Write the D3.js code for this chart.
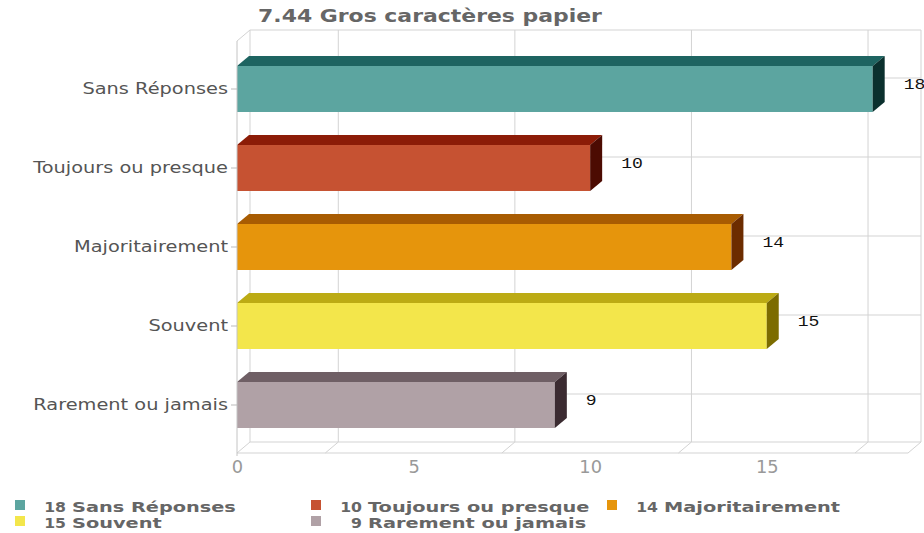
<!DOCTYPE html>
<html>
<head>
<meta charset="utf-8">
<script src="https://cdn.jsdelivr.net/npm/d3@7"></script>
<style>
  html, body { margin: 0; padding: 0; background: #fff; }
  svg { display: block; }
</style>
</head>
<body>
<svg id="chart" width="924" height="533"></svg>
<script>
// ---- data ----
const title = "7.44 Gros caractères papier";
const categories = ["Sans Réponses", "Toujours ou presque", "Majoritairement", "Souvent", "Rarement ou jamais"];
const values = [18, 10, 14, 15, 9];
const xTicks = [0, 5, 10, 15];
const gridValues = [2.5, 7.5, 12.5, 17.5];
const xMax = 19;
const frontColors = ["#5ca5a0", "#c65232", "#e6950c", "#f3e64b", "#b0a1a6"];
const topColors   = ["#1e6461", "#8c1c07", "#a85c02", "#bcab14", "#6f5f65"];
const sideColors  = ["#0b302e", "#4c0b02", "#6c2c00", "#7c6c00", "#3b2b31"];

// ---- layout ----
const svg = d3.select("#chart");
const plot = { left: 237, right: 908, top: 41, bottom: 453 };
const wallD = { dx: 13, dy: -11 };
const barD = { dx: 12, dy: -10 };
const bandInset = 8.5;
const hStretch = 1.29;   // the reference is horizontally stretched

const x = d3.scaleLinear().domain([0, xMax]).range([plot.left, plot.right]);
const y = d3.scaleBand().domain(categories)
  .range([plot.top + bandInset, plot.bottom - bandInset])
  .paddingInner(0.418).paddingOuter(0.209);

const gridColor = "#d3d3d3";

function stretch(sel, f) {
  sel.each(function () {
    const len = this.getComputedTextLength();
    d3.select(this).attr("textLength", len * f).attr("lengthAdjust", "spacingAndGlyphs");
  });
}

// ---- walls / grid ----
const g = svg.append("g");
const bx = v => x(v) + wallD.dx;
const byTop = plot.top + wallD.dy, byBot = plot.bottom + wallD.dy;

g.append("line").attr("x1", bx(0)).attr("x2", bx(xMax)).attr("y1", byTop).attr("y2", byTop).attr("stroke", gridColor);
g.append("line").attr("x1", bx(0)).attr("x2", bx(xMax)).attr("y1", byBot).attr("y2", byBot).attr("stroke", gridColor);
g.append("line").attr("x1", bx(0)).attr("x2", bx(0)).attr("y1", byTop).attr("y2", byBot).attr("stroke", gridColor);
g.append("line").attr("x1", bx(xMax)).attr("x2", bx(xMax)).attr("y1", byTop).attr("y2", byBot).attr("stroke", gridColor);
g.append("line").attr("x1", x(0)).attr("y1", plot.top).attr("x2", bx(0)).attr("y2", byTop).attr("stroke", gridColor);
g.append("line").attr("x1", x(0)).attr("y1", plot.bottom).attr("x2", bx(0)).attr("y2", byBot).attr("stroke", gridColor);
g.append("line").attr("x1", x(0)).attr("x2", x(xMax)).attr("y1", plot.bottom).attr("y2", plot.bottom).attr("stroke", gridColor);
g.append("line").attr("x1", x(xMax)).attr("y1", plot.bottom).attr("x2", bx(xMax)).attr("y2", byBot).attr("stroke", gridColor);

g.selectAll(".vgrid").data(gridValues).join("line")
  .attr("x1", d => bx(d)).attr("x2", d => bx(d)).attr("y1", byTop).attr("y2", byBot).attr("stroke", gridColor);
g.selectAll(".fgrid").data(gridValues).join("line")
  .attr("x1", d => x(d)).attr("y1", plot.bottom).attr("x2", d => bx(d)).attr("y2", byBot).attr("stroke", gridColor);

g.selectAll(".hgrid").data(categories).join("line")
  .attr("x1", bx(0)).attr("x2", bx(xMax))
  .attr("y1", d => y(d) + y.bandwidth() / 2 + wallD.dy)
  .attr("y2", d => y(d) + y.bandwidth() / 2 + wallD.dy)
  .attr("stroke", gridColor);

// ---- bars ----
const bars = svg.append("g").selectAll("g").data(categories).join("g");
bars.append("rect")
  .attr("x", x(0)).attr("y", d => y(d))
  .attr("width", (d, i) => x(values[i]) - x(0)).attr("height", y.bandwidth())
  .attr("fill", (d, i) => frontColors[i]);
bars.append("path")
  .attr("d", (d, i) => {
    const x0 = x(0), x1 = x(values[i]), y0 = y(d);
    return `M${x0},${y0}L${x0 + barD.dx},${y0 + barD.dy}L${x1 + barD.dx},${y0 + barD.dy}L${x1},${y0}Z`;
  })
  .attr("fill", (d, i) => topColors[i]);
bars.append("path")
  .attr("d", (d, i) => {
    const x1 = x(values[i]), y0 = y(d), y1 = y(d) + y.bandwidth();
    return `M${x1},${y0}L${x1 + barD.dx},${y0 + barD.dy}L${x1 + barD.dx},${y1 + barD.dy}L${x1},${y1}Z`;
  })
  .attr("fill", (d, i) => sideColors[i]);

const valT = bars.append("text")
  .attr("x", (d, i) => x(values[i]) + 31)
  .attr("y", d => y(d) + y.bandwidth() / 2 - 5)
  .attr("dy", "0.35em")
  .attr("font-family", "Liberation Mono, DejaVu Sans Mono, monospace")
  .attr("font-size", 14)
  .attr("fill", "#111")
  .text((d, i) => values[i]);
stretch(valT, hStretch);

// ---- axes ----
svg.append("line").attr("x1", x(0)).attr("x2", x(0)).attr("y1", plot.top).attr("y2", plot.bottom + 3).attr("stroke", "#c4c4c4");
const yAxis = svg.append("g").attr("transform", `translate(${x(0)},0)`)
  .call(d3.axisLeft(y).tickSize(6).tickPadding(3));
yAxis.select(".domain").remove();
yAxis.selectAll(".tick line").attr("stroke", "#bbb");
yAxis.selectAll(".tick text")
  .attr("font-family", "DejaVu Sans, Verdana, sans-serif")
  .attr("font-size", 15).attr("fill", "#555");
stretch(yAxis.selectAll(".tick text"), hStretch);

const xAxis = svg.append("g").attr("transform", `translate(0,${plot.bottom})`)
  .call(d3.axisBottom(x).tickValues(xTicks).tickSize(0).tickPadding(7).tickFormat(d3.format("d")));
xAxis.select(".domain").remove();
xAxis.selectAll(".tick text")
  .attr("font-family", "DejaVu Sans, sans-serif")
  .attr("font-stretch", "condensed")
  .attr("font-size", 18).attr("fill", "#999");
stretch(xAxis.selectAll(".tick text"), 1.1);

// ---- title ----
const t = svg.append("text")
  .attr("x", 430).attr("y", 22)
  .attr("text-anchor", "middle")
  .attr("font-family", "DejaVu Sans, Verdana, sans-serif")
  .attr("font-weight", "bold").attr("font-size", 17)
  .attr("fill", "#666")
  .text(title);
stretch(t, hStretch);

// ---- legend ----
const legCols = 3, colW = 296, rowH = 16;
const leg = svg.append("g").attr("transform", "translate(15,500)");
const items = leg.selectAll("g").data(categories).join("g")
  .attr("transform", (d, i) => `translate(${(i % legCols) * colW},${Math.floor(i / legCols) * rowH})`);
items.append("rect").attr("width", 10).attr("height", 10).attr("fill", (d, i) => frontColors[i]);
const numT = items.append("text")
  .attr("x", 51).attr("y", 12).attr("text-anchor", "end")
  .attr("font-family", "DejaVu Sans, Verdana, sans-serif")
  .attr("font-weight", "bold").attr("font-size", 14).attr("fill", "#666")
  .text((d, i) => values[i]);
const nameT = items.append("text")
  .attr("x", 57).attr("y", 12)
  .attr("font-family", "DejaVu Sans, Verdana, sans-serif")
  .attr("font-weight", "bold").attr("font-size", 14).attr("fill", "#666")
  .text(d => d);
stretch(numT, 1.12);
stretch(nameT, 1.38);
</script>
</body>
</html>
